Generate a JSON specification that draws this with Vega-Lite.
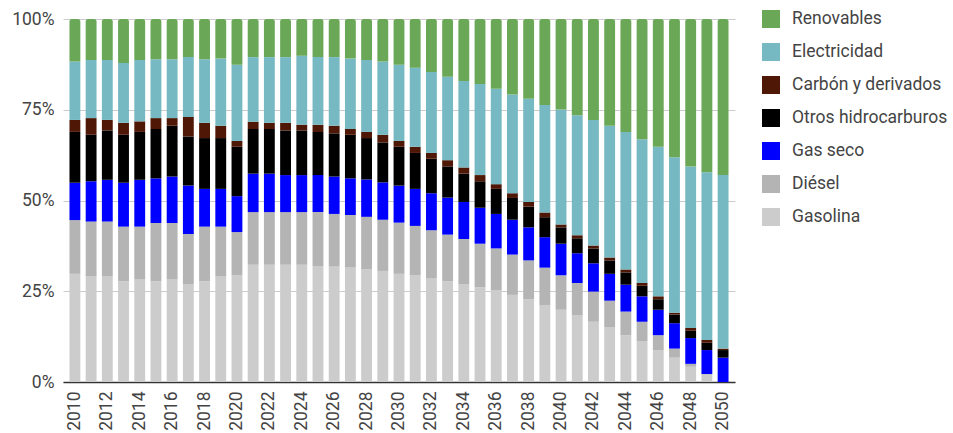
{
  "$schema": "https://vega.github.io/schema/vega-lite/v6.json",
  "width": 672,
  "height": 363,
  "autosize": {"type": "none"},
  "padding": {"left": 63, "top": 19, "right": 218, "bottom": 51},
  "background": "white",
  "config": {
    "font": "Roboto",
    "view": {"stroke": null},
    "axis": {"labelFont": "Roboto", "labelFontSize": 17.5, "labelColor": "#444444", "titleFont": "Roboto"},
    "legend": {"labelFont": "Roboto"}
  },
  "datasets": {
    "mix": [
      {"year": 2010, "Gasolina": 29.8, "Diésel": 14.8, "Gas seco": 10.3, "Otros hidrocarburos": 14.0, "Carbón y derivados": 3.3, "Electricidad": 16.1, "Renovables": 11.7},
      {"year": 2011, "Gasolina": 29.1, "Diésel": 15.1, "Gas seco": 11.1, "Otros hidrocarburos": 12.8, "Carbón y derivados": 4.6, "Electricidad": 16.0, "Renovables": 11.3},
      {"year": 2012, "Gasolina": 29.1, "Diésel": 15.1, "Gas seco": 11.5, "Otros hidrocarburos": 13.6, "Carbón y derivados": 2.9, "Electricidad": 16.5, "Renovables": 11.3},
      {"year": 2013, "Gasolina": 27.7, "Diésel": 15.1, "Gas seco": 12.1, "Otros hidrocarburos": 13.2, "Carbón y derivados": 3.3, "Electricidad": 16.5, "Renovables": 12.1},
      {"year": 2014, "Gasolina": 28.2, "Diésel": 14.6, "Gas seco": 12.9, "Otros hidrocarburos": 13.2, "Carbón y derivados": 2.9, "Electricidad": 16.9, "Renovables": 11.3},
      {"year": 2015, "Gasolina": 27.7, "Diésel": 16.1, "Gas seco": 12.3, "Otros hidrocarburos": 13.6, "Carbón y derivados": 3.0, "Electricidad": 16.2, "Renovables": 11.1},
      {"year": 2016, "Gasolina": 28.2, "Diésel": 15.6, "Gas seco": 12.8, "Otros hidrocarburos": 14.0, "Carbón y derivados": 2.1, "Electricidad": 16.2, "Renovables": 11.1},
      {"year": 2017, "Gasolina": 27.0, "Diésel": 13.8, "Gas seco": 13.3, "Otros hidrocarburos": 13.5, "Carbón y derivados": 5.4, "Electricidad": 16.5, "Renovables": 10.5},
      {"year": 2018, "Gasolina": 27.7, "Diésel": 15.1, "Gas seco": 10.4, "Otros hidrocarburos": 14.0, "Carbón y derivados": 4.2, "Electricidad": 17.5, "Renovables": 11.1},
      {"year": 2019, "Gasolina": 29.1, "Diésel": 13.7, "Gas seco": 10.4, "Otros hidrocarburos": 14.0, "Carbón y derivados": 3.4, "Electricidad": 18.5, "Renovables": 10.9},
      {"year": 2020, "Gasolina": 29.4, "Diésel": 11.9, "Gas seco": 9.9, "Otros hidrocarburos": 13.6, "Carbón y derivados": 1.6, "Electricidad": 21.0, "Renovables": 12.6},
      {"year": 2021, "Gasolina": 32.3, "Diésel": 14.5, "Gas seco": 10.6, "Otros hidrocarburos": 12.3, "Carbón y derivados": 2.0, "Electricidad": 17.8, "Renovables": 10.5},
      {"year": 2022, "Gasolina": 32.3, "Diésel": 14.5, "Gas seco": 10.6, "Otros hidrocarburos": 12.3, "Carbón y derivados": 1.7, "Electricidad": 18.1, "Renovables": 10.5},
      {"year": 2023, "Gasolina": 32.3, "Diésel": 14.5, "Gas seco": 10.2, "Otros hidrocarburos": 12.3, "Carbón y derivados": 2.1, "Electricidad": 18.1, "Renovables": 10.5},
      {"year": 2024, "Gasolina": 32.3, "Diésel": 14.5, "Gas seco": 10.2, "Otros hidrocarburos": 12.3, "Carbón y derivados": 1.6, "Electricidad": 19.0, "Renovables": 10.1},
      {"year": 2025, "Gasolina": 31.8, "Diésel": 15.0, "Gas seco": 10.2, "Otros hidrocarburos": 11.9, "Carbón y derivados": 2.0, "Electricidad": 18.6, "Renovables": 10.5},
      {"year": 2026, "Gasolina": 31.8, "Diésel": 14.5, "Gas seco": 10.3, "Otros hidrocarburos": 11.9, "Carbón y derivados": 2.1, "Electricidad": 18.9, "Renovables": 10.5},
      {"year": 2027, "Gasolina": 31.5, "Diésel": 14.5, "Gas seco": 10.1, "Otros hidrocarburos": 12.0, "Carbón y derivados": 1.6, "Electricidad": 19.4, "Renovables": 10.9},
      {"year": 2028, "Gasolina": 31.0, "Diésel": 14.5, "Gas seco": 10.3, "Otros hidrocarburos": 11.4, "Carbón y derivados": 1.7, "Electricidad": 19.8, "Renovables": 11.3},
      {"year": 2029, "Gasolina": 30.6, "Diésel": 14.1, "Gas seco": 10.3, "Otros hidrocarburos": 11.0, "Carbón y derivados": 2.1, "Electricidad": 20.2, "Renovables": 11.7},
      {"year": 2030, "Gasolina": 29.8, "Diésel": 14.1, "Gas seco": 10.2, "Otros hidrocarburos": 10.7, "Carbón y derivados": 1.6, "Electricidad": 21.0, "Renovables": 12.6},
      {"year": 2031, "Gasolina": 29.4, "Diésel": 13.6, "Gas seco": 10.2, "Otros hidrocarburos": 9.9, "Carbón y derivados": 1.7, "Electricidad": 21.8, "Renovables": 13.4},
      {"year": 2032, "Gasolina": 28.5, "Diésel": 13.3, "Gas seco": 10.2, "Otros hidrocarburos": 9.5, "Carbón y derivados": 1.6, "Electricidad": 22.3, "Renovables": 14.6},
      {"year": 2033, "Gasolina": 27.7, "Diésel": 12.9, "Gas seco": 10.2, "Otros hidrocarburos": 8.6, "Carbón y derivados": 1.7, "Electricidad": 23.0, "Renovables": 15.9},
      {"year": 2034, "Gasolina": 27.0, "Diésel": 12.4, "Gas seco": 10.2, "Otros hidrocarburos": 7.8, "Carbón y derivados": 1.7, "Electricidad": 23.8, "Renovables": 17.1},
      {"year": 2035, "Gasolina": 26.1, "Diésel": 12.0, "Gas seco": 9.9, "Otros hidrocarburos": 7.3, "Carbón y derivados": 1.7, "Electricidad": 25.1, "Renovables": 17.9},
      {"year": 2036, "Gasolina": 25.2, "Diésel": 11.6, "Gas seco": 9.5, "Otros hidrocarburos": 6.9, "Carbón y derivados": 1.3, "Electricidad": 26.3, "Renovables": 19.2},
      {"year": 2037, "Gasolina": 24.0, "Diésel": 11.1, "Gas seco": 9.6, "Otros hidrocarburos": 6.0, "Carbón y derivados": 1.3, "Electricidad": 27.2, "Renovables": 20.8},
      {"year": 2038, "Gasolina": 22.8, "Diésel": 10.7, "Gas seco": 9.1, "Otros hidrocarburos": 5.7, "Carbón y derivados": 1.3, "Electricidad": 28.4, "Renovables": 22.0},
      {"year": 2039, "Gasolina": 21.2, "Diésel": 10.3, "Gas seco": 8.4, "Otros hidrocarburos": 5.5, "Carbón y derivados": 1.3, "Electricidad": 29.6, "Renovables": 23.7},
      {"year": 2040, "Gasolina": 19.9, "Diésel": 9.5, "Gas seco": 8.7, "Otros hidrocarburos": 4.5, "Carbón y derivados": 0.8, "Electricidad": 31.7, "Renovables": 24.9},
      {"year": 2041, "Gasolina": 18.3, "Diésel": 9.0, "Gas seco": 8.2, "Otros hidrocarburos": 4.1, "Carbón y derivados": 0.8, "Electricidad": 33.1, "Renovables": 26.5},
      {"year": 2042, "Gasolina": 16.6, "Diésel": 8.3, "Gas seco": 7.8, "Otros hidrocarburos": 4.1, "Carbón y derivados": 0.8, "Electricidad": 34.6, "Renovables": 27.8},
      {"year": 2043, "Gasolina": 15.0, "Diésel": 7.4, "Gas seco": 7.4, "Otros hidrocarburos": 3.7, "Carbón y derivados": 0.8, "Electricidad": 36.3, "Renovables": 29.4},
      {"year": 2044, "Gasolina": 12.9, "Diésel": 6.5, "Gas seco": 7.4, "Otros hidrocarburos": 3.4, "Carbón y derivados": 0.8, "Electricidad": 37.9, "Renovables": 31.1},
      {"year": 2045, "Gasolina": 11.3, "Diésel": 5.3, "Gas seco": 7.0, "Otros hidrocarburos": 2.9, "Carbón y derivados": 0.8, "Electricidad": 39.6, "Renovables": 33.1},
      {"year": 2046, "Gasolina": 8.8, "Diésel": 4.1, "Gas seco": 7.0, "Otros hidrocarburos": 2.9, "Carbón y derivados": 0.8, "Electricidad": 41.2, "Renovables": 35.2},
      {"year": 2047, "Gasolina": 6.7, "Diésel": 2.5, "Gas seco": 7.0, "Otros hidrocarburos": 2.4, "Carbón y derivados": 0.5, "Electricidad": 42.8, "Renovables": 38.1},
      {"year": 2048, "Gasolina": 4.2, "Diésel": 0.8, "Gas seco": 7.1, "Otros hidrocarburos": 2.0, "Carbón y derivados": 0.8, "Electricidad": 44.5, "Renovables": 40.6},
      {"year": 2049, "Gasolina": 2.0, "Diésel": 0.2, "Gas seco": 6.6, "Otros hidrocarburos": 2.0, "Carbón y derivados": 0.8, "Electricidad": 46.2, "Renovables": 42.2},
      {"year": 2050, "Gasolina": 0.0, "Diésel": 0.0, "Gas seco": 6.7, "Otros hidrocarburos": 2.1, "Carbón y derivados": 0.4, "Electricidad": 47.8, "Renovables": 43.0}
    ],
    "fuentes": [
      {"fuente": "Gasolina", "orden": 1},
      {"fuente": "Diésel", "orden": 2},
      {"fuente": "Gas seco", "orden": 3},
      {"fuente": "Otros hidrocarburos", "orden": 4},
      {"fuente": "Carbón y derivados", "orden": 5},
      {"fuente": "Electricidad", "orden": 6},
      {"fuente": "Renovables", "orden": 7}
    ]
  },
  "data": {"name": "mix"},
  "transform": [
    {"fold": ["Gasolina", "Diésel", "Gas seco", "Otros hidrocarburos", "Carbón y derivados", "Electricidad", "Renovables"], "as": ["fuente", "valor"]},
    {"lookup": "fuente", "from": {"data": {"name": "fuentes"}, "key": "fuente", "fields": ["orden"]}},
    {"stack": "valor", "groupby": ["year"], "sort": [{"field": "orden", "order": "ascending"}], "offset": "normalize", "as": ["y0", "y1"]}
  ],
  "encoding": {
    "x": {
      "field": "year",
      "type": "ordinal",
      "scale": {"paddingInner": 0.33, "paddingOuter": 0.4},
      "axis": {
        "title": null,
        "values": [2010, 2012, 2014, 2016, 2018, 2020, 2022, 2024, 2026, 2028, 2030, 2032, 2034, 2036, 2038, 2040, 2042, 2044, 2046, 2048, 2050],
        "labelAngle": -90,
        "labelPadding": 9,
        "ticks": false,
        "domainColor": "#333333",
        "domainWidth": 1.5,
        "grid": false
      }
    },
    "y": {
      "field": "y0",
      "type": "quantitative",
      "scale": {"domain": [0, 1], "nice": false},
      "axis": {
        "title": null,
        "values": [0, 0.25, 0.5, 0.75, 1],
        "format": ".0%",
        "domain": false,
        "ticks": false,
        "labelPadding": 9,
        "gridColor": "#cccccc",
        "gridWidth": 1
      }
    },
    "y2": {"field": "y1"},
    "color": {
      "field": "fuente",
      "type": "nominal",
      "scale": {
        "domain": ["Renovables", "Electricidad", "Carbón y derivados", "Otros hidrocarburos", "Gas seco", "Diésel", "Gasolina"],
        "range": ["#6aa757", "#76b9c3", "#4f1706", "#000000", "#0000ff", "#b4b4b4", "#cccccc"]
      },
      "legend": {
        "title": null,
        "orient": "none",
        "legendX": 699,
        "legendY": -9,
        "padding": 0,
        "symbolType": "square",
        "symbolSize": 324,
        "symbolStrokeWidth": 0,
        "symbolOpacity": 1,
        "labelFontSize": 17.5,
        "labelColor": "#444444",
        "labelOffset": 12,
        "rowPadding": 15
      }
    }
  },
  "layer": [
    {
      "transform": [{"filter": "datum.fuente !== 'Renovables'"}],
      "mark": {"type": "bar"}
    },
    {
      "transform": [{"filter": "datum.fuente === 'Renovables'"}],
      "mark": {"type": "bar", "cornerRadiusTopLeft": 2.5, "cornerRadiusTopRight": 2.5}
    }
  ]
}
